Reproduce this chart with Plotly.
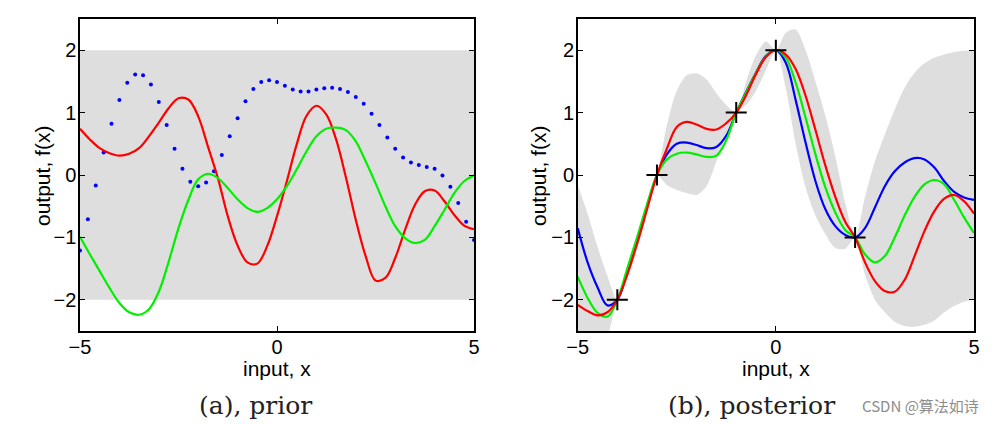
import plotly.graph_objects as go

# ---------------- data ----------------
# (a) prior
prior_band_x = [-5.0, 5.0]
prior_band_upper = [2.0, 2.0]
prior_band_lower = [-2.0, -2.0]

prior_dot_x = [-5.0, -4.8, -4.6, -4.4, -4.2, -4.0, -3.8, -3.6, -3.4, -3.2, -3.0,
               -2.8, -2.6, -2.4, -2.2, -2.0, -1.8, -1.6, -1.4, -1.2, -1.0,
               -0.8, -0.6, -0.4, -0.2, 0.0, 0.2, 0.4, 0.6, 0.8, 1.0,
               1.2, 1.4, 1.6, 1.8, 2.0, 2.2, 2.4, 2.6, 2.8, 3.0,
               3.2, 3.4, 3.6, 3.8, 4.0, 4.2, 4.4, 4.6, 4.8, 5.0]
prior_dot_y = [-1.21, -0.71, -0.17, 0.36, 0.82, 1.20, 1.48, 1.61, 1.60, 1.45, 1.17,
               0.80, 0.42, 0.10, -0.11, -0.18, -0.12, 0.06, 0.32, 0.62, 0.91,
               1.18, 1.38, 1.49, 1.52, 1.49, 1.43, 1.37, 1.34, 1.34, 1.37,
               1.39, 1.40, 1.38, 1.33, 1.25, 1.14, 0.98, 0.80, 0.60, 0.42,
               0.28, 0.20, 0.16, 0.13, 0.10, -0.01, -0.19, -0.45, -0.75, -1.04]

grid_x = [-5.0, -4.75, -4.5, -4.25, -4.0, -3.75, -3.5, -3.25, -3.0, -2.75, -2.5,
          -2.25, -2.0, -1.75, -1.5, -1.25, -1.0, -0.75, -0.5, -0.25, 0.0,
          0.25, 0.5, 0.75, 1.0, 1.25, 1.5, 1.75, 2.0, 2.25, 2.5,
          2.75, 3.0, 3.25, 3.5, 3.75, 4.0, 4.25, 4.5, 4.75, 5.0]

prior_red = [0.74, 0.57, 0.43, 0.35, 0.31, 0.34, 0.43, 0.62, 0.84, 1.07, 1.23,
             1.21, 0.94, 0.45, -0.05, -0.66, -1.13, -1.40, -1.42, -1.14, -0.66,
             -0.10, 0.49, 0.95, 1.11, 0.97, 0.57, -0.04, -0.72, -1.30, -1.69,
             -1.65, -1.33, -0.88, -0.48, -0.26, -0.25, -0.42, -0.64, -0.81, -0.87]
prior_green = [-0.99, -1.27, -1.54, -1.81, -2.05, -2.20, -2.24, -2.15, -1.87, -1.39, -0.85,
               -0.40, -0.07, 0.02, -0.05, -0.21, -0.39, -0.53, -0.59, -0.53, -0.39,
               -0.18, 0.09, 0.38, 0.62, 0.74, 0.76, 0.72, 0.54, 0.22, -0.13,
               -0.50, -0.82, -1.01, -1.09, -1.04, -0.82, -0.56, -0.29, -0.10, -0.01]

# (b) posterior
train_x = [-4.0, -3.0, -1.0, 0.0, 2.0]
train_y = [-2.0, 0.0, 1.0, 2.0, -1.0]

post_upper = [-0.16, -0.62, -1.15, -1.62, -2.0, -1.45, -0.93, -0.43, 0.0, 0.8, 1.35,
              1.6, 1.63, 1.53, 1.31, 1.12, 1.0, 1.5, 1.92, 2.14, 2.0,
              2.28, 2.33, 2.0, 1.5, 0.95, 0.3, -0.45, -1.0, -0.35, 0.22,
              0.65, 1.05, 1.4, 1.64, 1.79, 1.88, 1.93, 1.97, 1.99, 2.0]
post_lower = [-3.2, -3.1, -2.95, -2.6, -2.0, -1.65, -1.17, -0.6, 0.0, -0.16, -0.24,
              -0.29, -0.32, -0.18, 0.22, 0.65, 1.0, 1.12, 1.35, 1.68, 2.0,
              1.4, 0.5, -0.2, -0.65, -0.95, -1.17, -1.18, -1.0, -1.6, -2.0,
              -2.2, -2.35, -2.42, -2.43, -2.4, -2.33, -2.2, -2.1, -2.03, -2.0]

post_blue = [-0.85, -1.40, -1.80, -2.09, -2.0, -1.55, -1.05, -0.50, 0.0, 0.33, 0.50,
             0.52, 0.48, 0.43, 0.45, 0.63, 1.0, 1.33, 1.64, 1.91, 2.0,
             1.80, 1.20, 0.52, -0.10, -0.55, -0.82, -0.96, -1.0, -0.85, -0.52,
             -0.18, 0.06, 0.20, 0.27, 0.25, 0.12, -0.10, -0.27, -0.36, -0.40]
post_green = [-1.63, -1.97, -2.21, -2.27, -2.0, -1.50, -1.0, -0.47, 0.0, 0.25, 0.34,
              0.36, 0.33, 0.29, 0.31, 0.56, 1.0, 1.32, 1.63, 1.90, 2.0,
              1.88, 1.48, 0.92, 0.33, -0.20, -0.60, -0.88, -1.0, -1.27, -1.40,
              -1.30, -1.0, -0.65, -0.35, -0.15, -0.08, -0.15, -0.40, -0.68, -0.93]
post_red = [-2.08, -2.18, -2.25, -2.20, -2.0, -1.60, -1.10, -0.55, 0.0, 0.42, 0.77,
            0.85, 0.81, 0.74, 0.73, 0.83, 1.0, 1.28, 1.62, 1.89, 2.0,
            1.93, 1.70, 1.27, 0.72, 0.15, -0.35, -0.75, -1.0, -1.40, -1.70,
            -1.86, -1.87, -1.68, -1.30, -0.90, -0.58, -0.38, -0.32, -0.42, -0.62]

x_ticks = [-5, 0, 5]
y_ticks = [-2, -1, 0, 1, 2]
captions = ["(a), prior", "(b), posterior"]
x_title = "input, x"
y_title = "output, f(x)"
watermark = "CSDN @算法如诗"

# ---------------- style ----------------
GRAY = "#dedede"
RED = "#ff0000"
GREEN = "#00f000"
BLUE = "#0000ff"
SANS = "Liberation Sans, Arial, sans-serif"
SERIF = "DejaVu Serif, Liberation Serif, serif"

W, H = 1004, 424
OX, OY = 8, 8   # page (body) offset of the figure div


def px(x):
    return (x - OX) / W


def py(y):
    return 1 - (y - OY) / H


fig = go.Figure()

# ---- panel (a) ----
fig.add_trace(go.Scatter(x=prior_band_x, y=prior_band_upper, mode="lines",
                         line=dict(width=0, color=GRAY), xaxis="x", yaxis="y",
                         hoverinfo="skip", showlegend=False))
fig.add_trace(go.Scatter(x=prior_band_x, y=prior_band_lower, mode="lines",
                         line=dict(width=0, color=GRAY), fill="tonexty", fillcolor=GRAY,
                         xaxis="x", yaxis="y", hoverinfo="skip", showlegend=False))
fig.add_trace(go.Scatter(x=prior_dot_x, y=prior_dot_y, mode="markers",
                         marker=dict(size=4, color=BLUE), xaxis="x", yaxis="y",
                         showlegend=False))
fig.add_trace(go.Scatter(x=grid_x, y=prior_red, mode="lines",
                         line=dict(color=RED, width=2.2, shape="spline", smoothing=1.0),
                         xaxis="x", yaxis="y", showlegend=False))
fig.add_trace(go.Scatter(x=grid_x, y=prior_green, mode="lines",
                         line=dict(color=GREEN, width=2.2, shape="spline", smoothing=1.0),
                         xaxis="x", yaxis="y", showlegend=False))

# ---- panel (b) ----
fig.add_trace(go.Scatter(x=grid_x, y=post_upper, mode="lines",
                         line=dict(width=0, color=GRAY, shape="spline", smoothing=0.8),
                         xaxis="x2", yaxis="y2", hoverinfo="skip", showlegend=False))
fig.add_trace(go.Scatter(x=grid_x, y=post_lower, mode="lines",
                         line=dict(width=0, color=GRAY, shape="spline", smoothing=0.8),
                         fill="tonexty", fillcolor=GRAY,
                         xaxis="x2", yaxis="y2", hoverinfo="skip", showlegend=False))
for ys, col in [(post_blue, BLUE), (post_green, GREEN), (post_red, RED)]:
    fig.add_trace(go.Scatter(x=grid_x, y=ys, mode="lines",
                             line=dict(color=col, width=2.2, shape="spline", smoothing=1.0),
                             xaxis="x2", yaxis="y2", showlegend=False))
fig.add_trace(go.Scatter(x=train_x, y=train_y, mode="markers",
                         marker=dict(symbol="cross-thin", size=15,
                                     line=dict(color="black", width=2)),
                         xaxis="x2", yaxis="y2", showlegend=False))

# ---- axes ----
axis_common = dict(
    showline=True, linecolor="black", linewidth=1.6, mirror="allticks",
    ticks="inside", ticklen=5, tickwidth=1, tickcolor="black",
    showgrid=False, zeroline=False, automargin=False,
    tickfont=dict(family=SANS, size=20, color="black"),
    fixedrange=True,
)
ydomain = [py(331), py(19)]
fig.update_layout(
    xaxis=dict(axis_common, domain=[px(80), px(474)], range=[-5, 5], tickvals=x_ticks,
               anchor="y", ticklabelstandoff=-3),
    yaxis=dict(axis_common, domain=ydomain, range=[-2.5, 2.5], tickvals=y_ticks,
               anchor="x", ticklabelstandoff=-2),
    xaxis2=dict(axis_common, domain=[px(577.7), px(974)], range=[-5, 5], tickvals=x_ticks,
                anchor="y2", ticklabelstandoff=-3),
    yaxis2=dict(axis_common, domain=ydomain, range=[-2.5, 2.5], tickvals=y_ticks,
                anchor="x2", ticklabelstandoff=-2),
)

annotations = []
for cx in [(80 + 474) / 2, (577.7 + 974) / 2]:
    annotations.append(dict(text=x_title, x=px(cx), y=py(368), xref="paper", yref="paper",
                            showarrow=False, xanchor="center", yanchor="middle",
                            font=dict(family=SANS, size=21, color="black")))
for cx in [42, 538]:
    annotations.append(dict(text=y_title, x=px(cx), y=py(176), xref="paper", yref="paper",
                            showarrow=False, textangle=-90, xanchor="center", yanchor="middle",
                            font=dict(family=SANS, size=21, color="black")))
for cap, cx in zip(captions, [255, 751]):
    annotations.append(dict(text=cap, x=px(cx), y=py(405), xref="paper", yref="paper",
                            showarrow=False, xanchor="center", yanchor="middle",
                            font=dict(family=SERIF, size=25, color="#222222")))
annotations.append(dict(text=watermark, x=px(920), y=py(405), xref="paper", yref="paper",
                        showarrow=False, xanchor="center", yanchor="middle",
                        font=dict(family="Noto Sans CJK SC, sans-serif", size=15, color="#8c8c8c")))

fig.update_layout(
    width=W, height=H, margin=dict(l=0, r=0, t=0, b=0, pad=0),
    paper_bgcolor="white", plot_bgcolor="white",
    annotations=annotations, showlegend=False, hovermode=False,
)

fig.write_html("out.html", config={"displayModeBar": False, "staticPlot": True})
